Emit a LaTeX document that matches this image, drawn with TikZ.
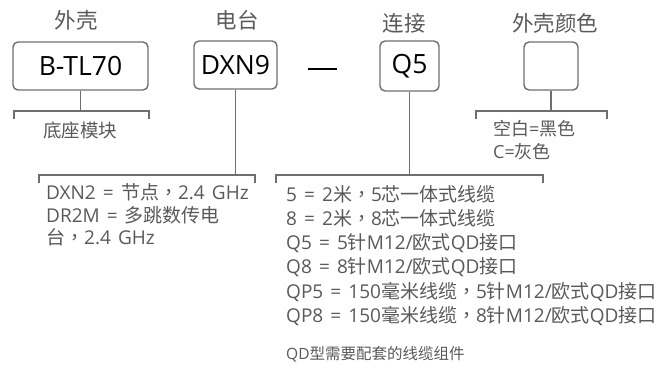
\documentclass[tikz,border=0pt]{standalone}
\usepackage{fontspec}
\setmainfont{Open Sans}[WordSpace=1.45]
\newfontfamily\boxfont{Open Sans}
\newfontfamily\cjk{Noto Sans CJK SC}
\newfontfamily\cjktc{Noto Sans CJK TC}
\newcommand\zh[1]{{\cjk #1}}
\newcommand\cm{{\cjktc ，}}
\definecolor{txtgray}{HTML}{595959}
\definecolor{linegray}{HTML}{6E6E6E}
\tikzset{
  codebox/.style={draw=linegray, line width=1.4pt, rounded corners=5pt, inner sep=0pt,
    font=\boxfont\fontsize{26.5}{26.5}\selectfont, text=black},
  toplabel/.style={font=\cjk\fontsize{21.5}{21.5}\selectfont, text=txtgray, inner sep=0pt},
  stem/.style={draw=linegray, line width=1.8pt},
  desc/.style={font=\fontsize{19}{24.2}\selectfont, text=txtgray, align=left, anchor=north west, inner sep=0pt},
  note/.style={font=\fontsize{15.5}{18}\selectfont, text=txtgray, anchor=west, inner sep=0pt},
}
\begin{document}
\begin{tikzpicture}[x=1pt,y=-1pt]
\useasboundingbox (0,0) rectangle (658,376);
% boxes
\node[codebox, minimum width=135pt, minimum height=48pt] (btl) at (80.5,66) {B-TL70};
\node[codebox, minimum width=83pt, minimum height=48pt] (dxn) at (235.5,65) {DXN9};
\node[codebox, minimum width=59pt, minimum height=50pt] (q5) at (409.5,66) {Q5};
\node[codebox, minimum width=54pt, minimum height=48pt] (col) at (551,66) {};
\node[inner sep=0pt, text=black] (dash) at (322.5,69) {\rule{29pt}{2.2pt}};
% top labels
\node[toplabel] (l1) at (76,20) {外壳};
\node[toplabel] (l2) at (237,20) {电台};
\node[toplabel] (l3) at (404,23) {连接};
\node[toplabel] (l4) at (555,23) {外壳颜色};
% bracket coordinates
\coordinate (b1l) at (14,111);  \coordinate (b1r) at (149,111);
\coordinate (b2l) at (39,175);  \coordinate (b2r) at (255,175);
\coordinate (b3l) at (276,175); \coordinate (b3r) at (543,175);
\coordinate (b4l) at (476,111); \coordinate (b4r) at (607,111);
% stems and brackets
\draw[stem] (btl.south) -- (btl.south |- b1l);
\draw[stem] ([yshift=-8pt]b1l) -- (b1l) -- (b1r) -- ([yshift=-8pt]b1r);
\draw[stem] (dxn.south) -- (dxn.south |- b2l);
\draw[stem] ([yshift=-8pt]b2l) -- (b2l) -- (b2r) -- ([yshift=-8pt]b2r);
\draw[stem] (q5.south) -- (q5.south |- b3l);
\draw[stem] ([yshift=-8pt]b3l) -- (b3l) -- (b3r) -- ([yshift=-8pt]b3r);
\draw[stem] (col.south) -- (col.south |- b4l);
\draw[stem] ([yshift=-8pt]b4l) -- (b4l) -- (b4r) -- ([yshift=-8pt]b4r);
% descriptions
\node[font=\cjk\fontsize{18.5}{18.5}\selectfont, text=txtgray, inner sep=0pt] (d1) at (80,130) {底座模块};
\node[desc, font=\fontsize{19}{22.5}\selectfont] (d2) at (46,183.5) {DXN2 = \zh{节点}\cm 2.4 GHz\\DR2M = \zh{多跳数传电}\\\zh{台}\cm 2.4 GHz};
\node[desc] (d3) at (286,185) {5 = 2\zh{米}\cm 5\zh{芯一体式线缆}\\8 = 2\zh{米}\cm 8\zh{芯一体式线缆}\\Q5 = 5\zh{针}M12/\zh{欧式}QD\zh{接口}\\Q8 = 8\zh{针}M12/\zh{欧式}QD\zh{接口}\\QP5 = 150\zh{毫米线缆}\cm 5\zh{针}M12/\zh{欧式}QD\zh{接口}\\QP8 = 150\zh{毫米线缆}\cm 8\zh{针}M12/\zh{欧式}QD\zh{接口}};
\node[desc, font=\fontsize{18}{23}\selectfont] (d4) at (493,120) {\zh{空白}=\zh{黑色}\\C=\zh{灰色}};
\node[note] (d5) at (286,354) {QD\zh{型需要配套的线缆组件}};
\end{tikzpicture}
\end{document}
